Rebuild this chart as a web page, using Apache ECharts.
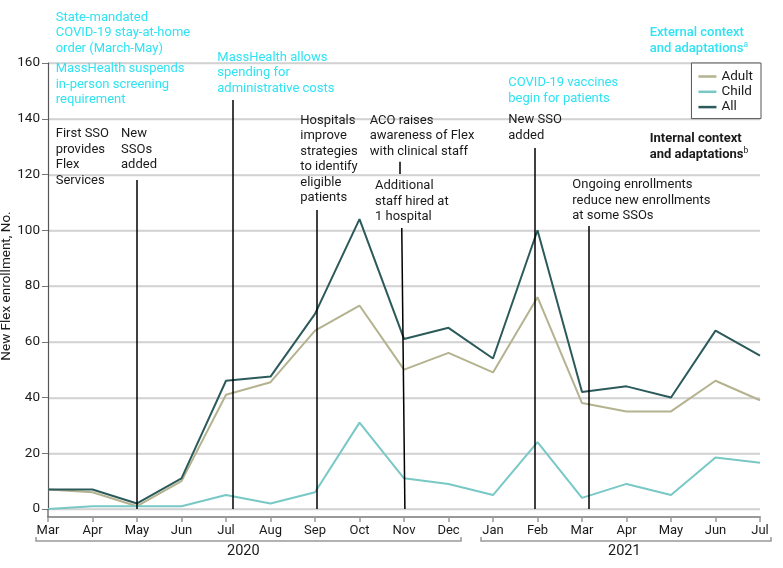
<!DOCTYPE html>
<html>
<head>
<meta charset="utf-8">
<script src="https://cdn.jsdelivr.net/npm/echarts@6/dist/echarts.min.js"></script>
<style>html,body{margin:0;padding:0;background:#fff}#c{width:783px;height:568px}</style>
</head>
<body>
<div id="c"></div>
<script>
const months = ['Mar','Apr','May','Jun','Jul','Aug','Sep','Oct','Nov','Dec','Jan','Feb','Mar','Apr','May','Jun','Jul'];
const adult = [7, 6, 1, 10, 41, 45.5, 64, 73, 50, 56, 49, 76, 38, 35, 35, 46, 39];
const child = [0, 1, 1, 1, 5, 2, 6, 31, 11, 9, 5, 24, 4, 9, 5, 18.5, 16.6];
const all = [7, 7, 2, 11, 46, 47.5, 70, 104, 61, 65, 54, 100, 42, 44, 40, 64, 55];
const yTicks = [0, 20, 40, 60, 80, 100, 120, 140, 160];
// annotation leader lines: [xTop, yTop, xBottom, yBottom] in data units (month index, enrollment)
const leaders = [
  [1.99, 118, 1.99, 0],
  [4.15, 146.7, 4.15, 0],
  [6.05, 107.3, 6.05, 0],
  [7.90, 124.6, 7.90, 120.2],
  [7.95, 100.8, 8.02, 0],
  [10.94, 129.5, 10.94, 0],
  [12.16, 101.5, 12.16, 0]
];

const CYAN = '#2fe3f2';
const BLACK = '#1a1a1a';
const GRID = '#d2d2d2';
const FONT = 'Roboto';
const X_OFFSET = 8;

function pairs(arr){ return arr.map((v,i)=>[i,v]); }

const chart = echarts.init(document.getElementById('c'));

function txt(left, top, text, color, opts){
  opts = opts || {};
  return {
    type: 'text', left: left, top: top, z: 100,
    style: Object.assign({
      text: text, fill: color, font: (opts.weight||'normal') + ' 13px ' + FONT,
      lineHeight: opts.lh || 15.5
    }, opts.rich ? {rich: opts.rich} : {})
  };
}

const supRich = {
  sup: {fontSize: 8.5, verticalAlign: 'top', lineHeight: 10, fontFamily: FONT}
};

const option = {
  animation: false,
  textStyle: {fontFamily: FONT},
  grid: {left: 48, right: 23, top: 63, bottom: 59, containLabel: false, outerBoundsMode: 'none'},
  legend: {
    orient: 'vertical', right: 22, top: 63, z: 20,
    data: ['Adult','Child','All'],
    icon: 'rect', itemWidth: 18, itemHeight: 2.5, itemGap: 0.3,
    padding: [6, 8, 4, 7],
    borderColor: '#555', borderWidth: 1, backgroundColor: '#fff',
    textStyle: {fontSize: 13.5, color: BLACK, lineHeight: 15, fontFamily: FONT}
  },
  xAxis: {
    type: 'value', min: 0, max: 16, interval: 1, offset: X_OFFSET,
    axisLine: {onZero: false, lineStyle: {color: '#999', width: 2}},
    axisTick: {length: 5, lineStyle: {color: '#999', width: 1.5}},
    axisLabel: {formatter: v => months[v] || '', color: BLACK, fontSize: 13, margin: 7, fontFamily: FONT},
    splitLine: {show: false}
  },
  yAxis: {
    type: 'value', min: yTicks[0], max: yTicks[yTicks.length-1], interval: yTicks[1]-yTicks[0],
    name: 'New Flex enrollment, No.', nameLocation: 'middle', nameGap: 34, nameMoveOverlap: false,
    nameTextStyle: {fontSize: 13.5, color: BLACK, fontFamily: FONT},
    axisLine: {show: true, lineStyle: {color: '#555', width: 1.2}},
    axisTick: {show: true, length: 6, lineStyle: {color: '#777'}},
    axisLabel: {color: BLACK, fontSize: 13.5, margin: 8, fontFamily: FONT},
    splitLine: {show: true, lineStyle: {color: GRID, width: 1.5}}
  },
  series: [
    {name: 'Adult', type: 'line', data: pairs(adult), symbol: 'none', color: '#b4b28f', lineStyle: {width: 2}, z: 2},
    {name: 'Child', type: 'line', data: pairs(child), symbol: 'none', color: '#78c8c6', lineStyle: {width: 2}, z: 2},
    {name: 'All', type: 'line', data: pairs(all), symbol: 'none', color: '#2c5a5a', lineStyle: {width: 2}, z: 3,
      markLine: {
        silent: true, symbol: ['none','none'], animation: false,
        lineStyle: {color: '#000', width: 1.5, type: 'solid'},
        label: {show: false},
        data: leaders.map(l => [{coord: [l[0], l[1]]}, {coord: [l[2], l[3]]}])
      }
    }
  ]
};
chart.setOption(option);

// y-axis line extension down to the offset x axis, and horizontal grid lines from the y scale
const p0 = chart.convertToPixel({gridIndex: 0}, [0, 0]);
const pR = chart.convertToPixel({gridIndex: 0}, [16, 0]);
const gridLines = yTicks.map(v => {
  const y = Math.round(chart.convertToPixel({yAxisIndex: 0}, v)) + 0.5;
  return {type: 'line', z: 0, silent: true, shape: {x1: p0[0], y1: y, x2: pR[0], y2: y}, style: {stroke: GRID, lineWidth: 1.5}};
});

chart.setOption({
  graphic: gridLines.concat([
    {type: 'line', z: 50, shape: {x1: p0[0], y1: p0[1], x2: p0[0], y2: p0[1] + X_OFFSET}, style: {stroke: '#555', lineWidth: 1.2}},
    txt(55.7, 9.5, 'State-mandated\nCOVID-19 stay-at-home\norder (March-May)', CYAN),
    txt(55.7, 61.2, 'MassHealth suspends\nin-person screening\nrequirement', CYAN),
    txt(55.7, 126.3, 'First SSO\nprovides\nFlex\nServices', BLACK),
    txt(121, 126.3, 'New\nSSOs\nadded', BLACK),
    txt(217.3, 49.5, 'MassHealth allows\nspending for\nadministrative costs', CYAN),
    txt(300.3, 112.5, 'Hospitals\nimprove\nstrategies\nto identify\neligible\npatients', BLACK),
    txt(369.7, 112.5, 'ACO raises\nawareness of Flex\nwith clinical staff', BLACK),
    txt(375, 178, 'Additional\nstaff hired at\n1 hospital', BLACK),
    txt(508.3, 75.3, 'COVID-19 vaccines\nbegin for patients', CYAN),
    txt(508.3, 112.3, 'New SSO\nadded', BLACK),
    txt(572.3, 177, 'Ongoing enrollments\nreduce new enrollments\nat some SSOs', BLACK),
    txt(649.7, 24.3, 'External context\nand adaptations{sup|a}', CYAN, {weight: 500, lh: 16, rich: supRich}),
    txt(649.7, 130.3, 'Internal context\nand adaptations{sup|b}', BLACK, {weight: 'bold', lh: 16.4, rich: supRich}),
    {type: 'polyline', z: 50, shape: {points: [[36,537],[36,541],[461,541],[461,537]]}, style: {stroke: '#999', lineWidth: 1.5, fill: null}},
    {type: 'polyline', z: 50, shape: {points: [[481,537],[481,541],[771,541],[771,537]]}, style: {stroke: '#999', lineWidth: 1.5, fill: null}},
    {type: 'text', left: 227, top: 544, z: 100, style: {text: '2020', fill: BLACK, font: '14.5px ' + FONT}},
    {type: 'text', left: 608, top: 544, z: 100, style: {text: '2021', fill: BLACK, font: '14.5px ' + FONT}}
  ])
});
</script>
</body>
</html>
